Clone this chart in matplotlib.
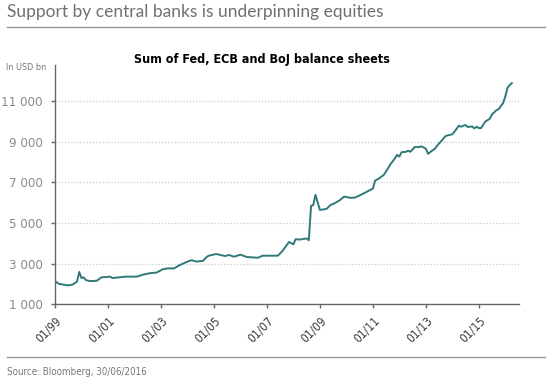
import matplotlib
matplotlib.use("Agg")
import matplotlib.pyplot as plt
import matplotlib.dates as mdates
import pandas as pd

# Sum of Fed, ECB and BoJ balance sheets, USD bn
months = ["1999-01", "1999-03", "1999-07", "1999-09", "1999-11", "1999-12", "2000-01",
          "2000-02", "2000-03", "2000-05", "2000-08", "2000-10", "2001-02", "2001-03",
          "2001-09", "2002-02", "2002-05", "2002-08", "2002-11", "2003-02", "2003-04",
          "2003-07", "2003-09", "2004-01", "2004-03", "2004-05", "2004-08", "2004-10",
          "2004-11", "2005-02", "2005-06", "2005-08", "2005-10", "2006-01", "2006-04",
          "2006-09", "2006-11", "2007-02", "2007-06", "2007-08", "2007-11", "2008-01",
          "2008-02", "2008-04", "2008-07", "2008-08", "2008-09", "2008-10", "2008-11",
          "2009-01", "2009-04", "2009-06", "2009-07", "2009-10", "2009-12", "2010-03",
          "2010-05", "2010-07", "2010-10", "2011-01", "2011-02", "2011-04", "2011-06",
          "2011-08", "2011-09", "2011-11", "2011-12", "2012-01", "2012-02", "2012-04",
          "2012-05", "2012-06", "2012-08", "2012-10", "2012-11", "2013-01", "2013-02",
          "2013-04", "2013-05", "2013-07", "2013-08", "2013-10", "2014-01", "2014-02",
          "2014-04", "2014-05", "2014-07", "2014-08", "2014-10", "2014-11", "2014-12",
          "2015-01", "2015-02", "2015-04", "2015-06", "2015-07", "2015-09", "2015-10",
          "2015-12", "2016-01", "2016-02", "2016-03", "2016-04"]
values = [2130, 2000, 1930, 1970, 2120, 2590, 2290,
          2325, 2190, 2140, 2160, 2325, 2360, 2290,
          2360, 2360, 2460, 2530, 2560, 2730, 2765,
          2765, 2900, 3100, 3170, 3100, 3135, 3355,
          3400, 3475, 3375, 3425, 3340, 3440, 3325,
          3290, 3390, 3390, 3390, 3610, 4065, 3950,
          4200, 4185, 4240, 4150, 5840, 5880, 6385,
          5640, 5690, 5900, 5930, 6115, 6300, 6235,
          6250, 6350, 6520, 6690, 7080, 7200, 7365,
          7705, 7890, 8180, 8350, 8265, 8480, 8500,
          8555, 8500, 8735, 8735, 8770, 8655, 8400,
          8570, 8635, 8910, 9025, 9280, 9365, 9500,
          9785, 9735, 9820, 9720, 9750, 9650, 9735,
          9670, 9670, 9990, 10125, 10330, 10550, 10600,
          10890, 11220, 11650, 11780, 11880]
yticks = [1000, 3000, 5000, 7000, 9000, 11000]
xticks = ["1999-01", "2001-01", "2003-01", "2005-01", "2007-01",
          "2009-01", "2011-01", "2013-01", "2015-01"]

dates = pd.to_datetime(months)
grey = "#8a8a8a"
cond = dict(family="DejaVu Sans", stretch="condensed")

fig = plt.figure(figsize=(5.5, 3.82), dpi=100)
ax = fig.add_axes([0.1, 0.2034, 0.8436, 0.6264])

ax.plot(dates, values, color="#2f7a78", lw=1.4)

ax.set_xlim(pd.Timestamp("1999-01-01"), pd.Timestamp("2016-07-08"))
ax.set_ylim(1000, 12770)
ax.set_yticks(yticks)
ax.set_yticklabels([f"{v:,}".replace(",", " ") for v in yticks],
                   fontsize=9.5, color=grey, **cond)
ax.set_xticks(pd.to_datetime(xticks))
ax.xaxis.set_major_formatter(mdates.DateFormatter("%m/%y"))
for lab in ax.get_xticklabels():
    lab.set_family("DejaVu Sans")
    lab.set_stretch("condensed")
    lab.set_fontsize(8.5)
    lab.set_color("#3a3a3a")
    lab.set_rotation(45)
    lab.set_ha("right")
    lab.set_rotation_mode("anchor")

ax.grid(axis="y", ls=(0, (1, 1.5)), color="#cccccc", lw=0.9)
ax.set_axisbelow(True)
for s in ["top", "right"]:
    ax.spines[s].set_visible(False)
for s in ["left", "bottom"]:
    ax.spines[s].set_color("#666666")
    ax.spines[s].set_linewidth(1)
ax.tick_params(axis="both", color="#666666", length=3, width=1)
ax.tick_params(axis="y", pad=6)
ax.tick_params(axis="x", pad=4)

fig.text(0.013, 0.968, "Support by central banks is underpinning equities",
         fontsize=12.5, color="#707070", va="center", family="Lato")
fig.add_artist(plt.Line2D([0.013, 0.99], [0.93, 0.93], color="#999999", lw=1))
fig.text(0.476, 0.843, "Sum of Fed, ECB and BoJ balance sheets", ha="center", va="center",
         fontsize=9, weight="bold", color="black", **cond)
fig.text(0.011, 0.823, "In USD bn", fontsize=6.5, color="#777777", va="center", **cond)
fig.add_artist(plt.Line2D([0.013, 0.99], [0.065, 0.065], color="#999999", lw=1))
fig.text(0.013, 0.027, "Source: Bloomberg, 30/06/2016", fontsize=7, color="#777777",
         va="center", **cond)

fig.savefig("out.png", dpi=100)
